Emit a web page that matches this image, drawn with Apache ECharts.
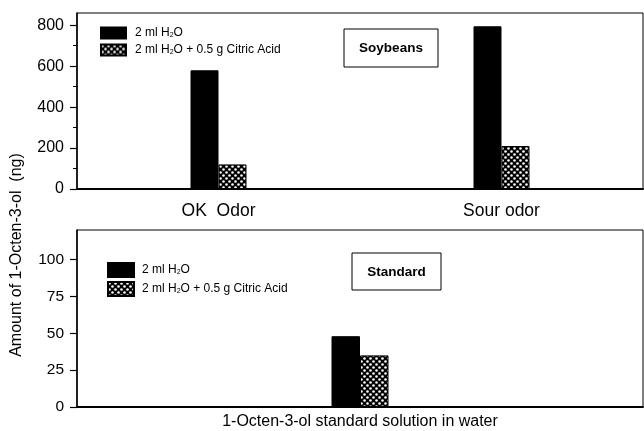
<!DOCTYPE html>
<html><head><meta charset="utf-8">
<script src="https://cdn.jsdelivr.net/npm/echarts@6/dist/echarts.min.js"></script>
<style>html,body{margin:0;padding:0;background:#fff}#c{width:644px;height:431px}</style>
</head><body><div id="c"></div>
<script>
const soyCategories = ['OK  Odor', 'Sour odor'];
const soyWater = [580, 795];
const soyCitric = [120, 210];
const stdCategories = ['1-Octen-3-ol standard solution in water'];
const stdWater = [48];
const stdCitric = [35];
const soyTicks = [0, 200, 400, 600, 800];
const soyMinorTicks = [100, 300, 500, 700];
const stdTicks = [0, 25, 50, 75, 100];
const seriesNames = ['2 ml H2O', '2 ml H2O + 0.5 g Citric Acid'];

function hatch() {
  const c = document.createElement('canvas');
  c.width = 6; c.height = 6;
  const g = c.getContext('2d');
  g.fillStyle = '#000'; g.fillRect(0, 0, 6, 6);
  g.fillStyle = '#fff';
  g.beginPath(); g.arc(1.5, 1.5, 1.3, 0, Math.PI * 2); g.fill();
  g.beginPath(); g.arc(4.5, 4.5, 1.3, 0, Math.PI * 2); g.fill();
  return c;
}
const pat = { image: hatch(), repeat: 'repeat' };
const FONT = 'Liberation Sans, Arial, sans-serif';

const chart = echarts.init(document.getElementById('c'), null, { renderer: 'canvas' });
const legendFmt = n => n.replace('H2O', 'H{s|2}O');
function legendText(padLeft) {
  return { fontFamily: FONT, fontSize: 12, color: '#000', lineHeight: 14, padding: [0, 0, 0, padLeft],
    rich: { s: { fontFamily: FONT, fontSize: 7, lineHeight: 14, padding: [5, 0, 0, 0], color: '#000' } } };
}

function yAxisBase(grid, max, ticks, fs) {
  return {
    type: 'value', gridIndex: grid, min: 0, max: max, position: 'left',
    axisLine: { show: true, lineStyle: { color: '#000', width: 1.5 } },
    axisTick: { show: true, length: 7, lineStyle: { color: '#000', width: 1.2 }, customValues: ticks },
    axisLabel: { color: '#000', fontFamily: FONT, fontSize: fs, margin: 13, customValues: ticks },
    splitLine: { show: false }
  };
}

chart.setOption({
  animation: false,
  backgroundColor: '#fff',
  grid: [
    { left: 77, top: 13, right: 1, height: 176, show: true, borderColor: '#000', borderWidth: 1 },
    { left: 77, top: 230, right: 1, height: 177, show: true, borderColor: '#000', borderWidth: 1 }
  ],
  xAxis: [
    { type: 'category', gridIndex: 0, data: soyCategories,
      axisLine: { lineStyle: { color: '#000', width: 2 } },
      axisTick: { alignWithLabel: true, length: 6, lineStyle: { color: '#000', width: 1.5 } },
      axisLabel: { color: '#000', fontFamily: FONT, fontSize: 17.5, margin: 13 } },
    { type: 'category', gridIndex: 1, data: stdCategories,
      axisLine: { lineStyle: { color: '#000', width: 2 } },
      axisTick: { length: 4, lineStyle: { color: '#000', width: 1.5 } },
      axisLabel: { color: '#000', fontFamily: FONT, fontSize: 16, margin: 7 } }
  ],
  yAxis: [
    yAxisBase(0, 860, soyTicks, 16),
    Object.assign(yAxisBase(0, 860, soyMinorTicks, 16), {
      axisLine: { show: false },
      axisTick: { show: true, length: 4, lineStyle: { color: '#000', width: 1 }, customValues: soyMinorTicks },
      axisLabel: { show: false } }),
    yAxisBase(1, 120, stdTicks, 15.5)
  ],
  legend: [
    { left: 100, top: 26, padding: 0, orient: 'vertical', icon: 'rect', itemWidth: 25, itemHeight: 11, itemGap: 3,
      data: seriesNames, formatter: legendFmt, textStyle: legendText(4), selectedMode: false },
    { left: 107, top: 262, padding: 0, orient: 'vertical', icon: 'rect', itemWidth: 26, itemHeight: 14, itemGap: 3,
      data: seriesNames, formatter: legendFmt, textStyle: legendText(3), selectedMode: false }
  ],
  series: [
    { name: seriesNames[0], type: 'bar', xAxisIndex: 0, yAxisIndex: 0, data: soyWater, barWidth: 28, barGap: '0%',
      itemStyle: { color: '#000', borderColor: '#000', borderWidth: 1 } },
    { name: seriesNames[1], type: 'bar', xAxisIndex: 0, yAxisIndex: 0, data: soyCitric, barWidth: 28, barGap: '0%',
      itemStyle: { color: pat, borderColor: '#000', borderWidth: 1 } },
    { name: seriesNames[0], type: 'bar', xAxisIndex: 1, yAxisIndex: 2, data: stdWater, barWidth: 28.5, barGap: '0%',
      itemStyle: { color: '#000', borderColor: '#000', borderWidth: 1 } },
    { name: seriesNames[1], type: 'bar', xAxisIndex: 1, yAxisIndex: 2, data: stdCitric, barWidth: 28.5, barGap: '0%',
      itemStyle: { color: pat, borderColor: '#000', borderWidth: 1 } }
  ],
  graphic: [
    { type: 'rect', shape: { x: 344, y: 29, width: 94, height: 38 }, style: { fill: '#fff', stroke: '#000', lineWidth: 1 }, z: 100 },
    { type: 'text', x: 391, y: 48.5, style: { text: 'Soybeans', fontFamily: FONT, fontWeight: 'bold', fontSize: 13.5, fill: '#000', align: 'center', verticalAlign: 'middle' }, z: 101 },
    { type: 'rect', shape: { x: 352, y: 253, width: 89, height: 37 }, style: { fill: '#fff', stroke: '#000', lineWidth: 1 }, z: 100 },
    { type: 'text', x: 396.5, y: 272, style: { text: 'Standard', fontFamily: FONT, fontWeight: 'bold', fontSize: 13.5, fill: '#000', align: 'center', verticalAlign: 'middle' }, z: 101 },
    { type: 'text', x: 17, y: 255, rotation: Math.PI / 2, style: { text: 'Amount of 1-Octen-3-ol  (ng)', fontFamily: FONT, fontSize: 16, fill: '#000', align: 'center', verticalAlign: 'middle' }, z: 101 }
  ]
});
</script></body></html>
